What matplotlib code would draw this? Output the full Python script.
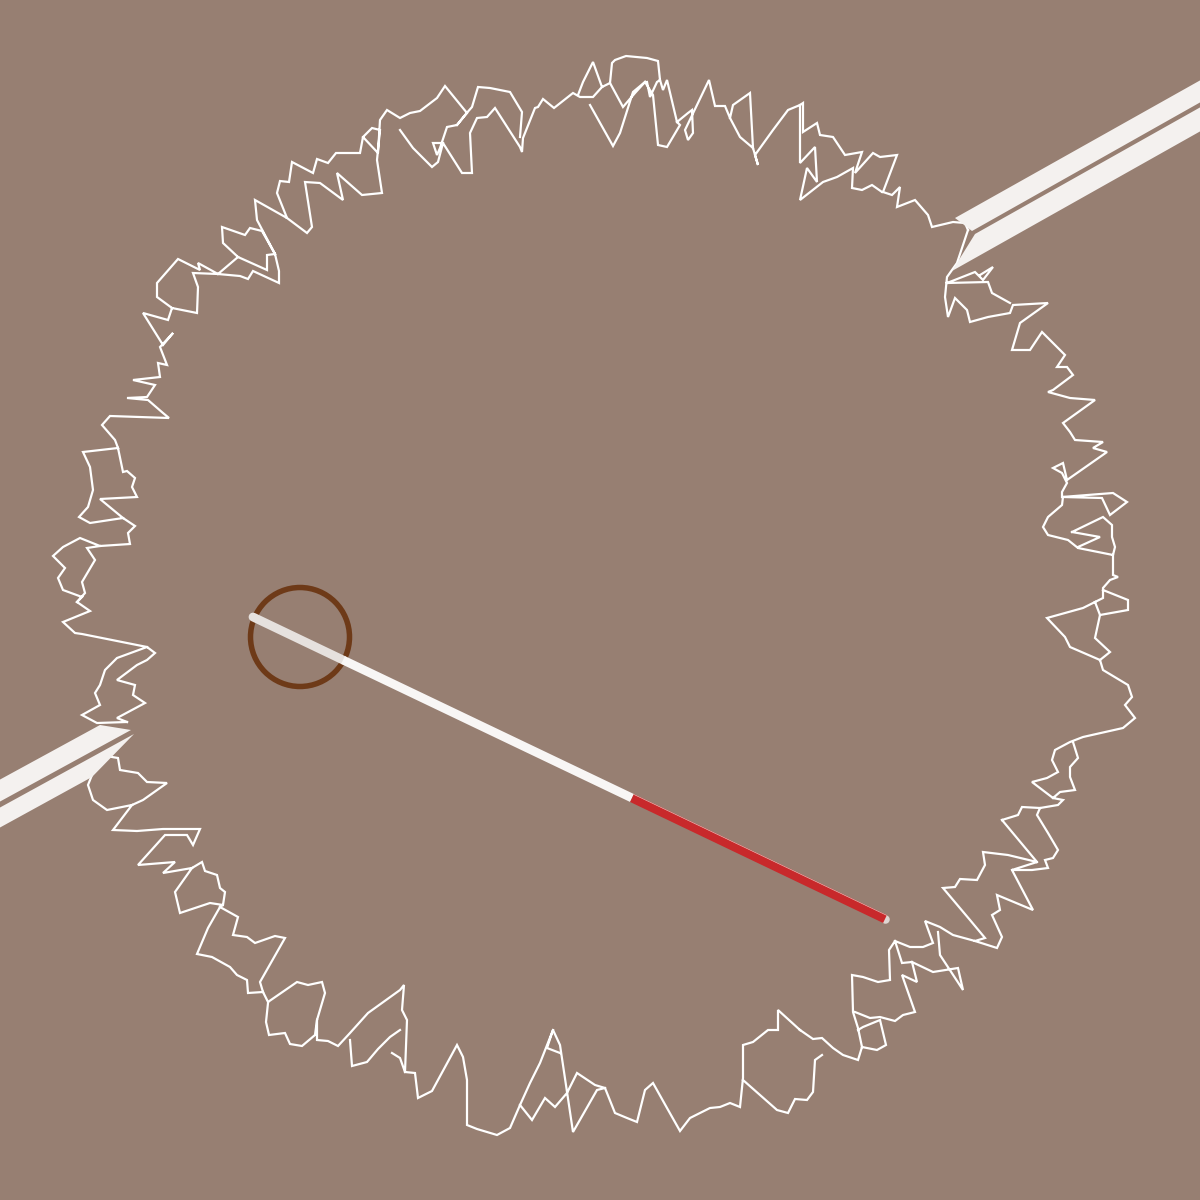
import numpy as np
import matplotlib
matplotlib.use("Agg")
import matplotlib.pyplot as plt
from matplotlib.patches import Polygon, Circle

# ---------------- data (pixel space, y downwards) ----------------
BG = "#977f72"

# jagged outline strokes
ring_right = [(968,230),(957,263),(947,277),(945,297),(948,317),(955,298),(967,310),(970,322),(988,317),
    (1010,313),(1013,305),(1048,303),(1020,323),(1012,350),(1030,350),(1042,332),(1058,348),(1065,355),
    (1057,367),(1067,367),(1073,375),(1053,390),(1048,392),(1070,398),(1095,400),(1063,423),(1070,432),
    (1075,440),(1103,442),(1093,448),(1107,452),(1067,480),(1063,463),(1053,468),(1062,473),(1067,483),
    (1062,492),(1062,497),(1113,493),(1127,502),(1110,515),(1102,498),(1063,497),(1062,505),(1048,517),
    (1043,527),(1048,535),(1068,540),(1078,548),(1113,555),(1113,575),(1118,577),(1110,580),(1103,588),
    (1103,598),(1095,602),(1083,608),(1047,618),(1065,637),(1070,647),(1100,660),(1103,670),(1128,685),
    (1132,697),(1125,705),(1135,718),(1123,728),(1083,737),(1070,742),(1055,750),(1052,760),(1058,772),
    (1047,778),(1032,782),(1053,798),(1063,800),(1058,805),(1040,808),(1037,815),(1048,833),(1058,850),
    (1053,858),(1045,860),(1048,868),(1032,870),(1012,870),(1037,862),(1008,855),(983,852),(985,865),
    (977,880),(960,879),(955,887),(943,888),(970,920),(985,938),(975,941),(953,935),(940,927),(925,921),
    (933,943),(923,947),(910,947),(895,941),(889,950),(890,980),(878,982),(863,977),(852,975),(853,1012),
    (858,1028),(862,1047),(858,1060),(843,1055),(833,1048),(822,1038),(813,1039),(800,1030)]
ring_bottom = [(800,1030),(778,1010),(778,1030),(768,1030),(753,1042),(743,1045),(743,1078),(740,1107),
    (730,1103),(720,1107),(710,1108),(690,1118),(680,1131),(667,1108),(653,1083),(645,1090),(637,1122),
    (627,1118),(615,1113),(605,1088),(597,1090),(573,1132),(560,1045),(553,1030),(540,1063),(530,1083),
    (520,1105),(510,1128),(497,1135),(477,1129),(467,1125),(467,1080),(463,1057),(457,1045),(432,1091),
    (418,1098),(415,1073),(405,1072),(407,1020),(402,1010),(404,985),(400,990),(368,1013),(350,1033),
    (338,1046),(328,1041),(317,1040),(317,1020),(325,993),(322,982),(308,985),(297,982),(268,1002),
    (263,992),(260,982),(285,938),(275,936),(255,943),(247,937),(233,935),(238,917),(220,907),(208,928),
    (197,954),(212,957),(230,967),(237,975),(247,980),(248,993),(263,992)]
ring_lower_left = [(220,907),(223,905),(210,903),(180,913),(175,892),(192,868),(202,862),(205,871),
    (217,875),(220,888),(225,892),(223,905)]
ring_lower_left2 = [(192,868),(163,873),(175,862),(138,865),(165,835),(187,835),(193,845),(200,829),
    (163,829),(137,831),(113,830),(132,805),(143,800),(167,783),(147,782),(138,773),(120,770),(118,758),(100,755)]
ring_lower_left3 = [(132,805),(107,810),(93,800),(88,785),(92,775)]
ring_left = [(147,647),(82,634),(75,633),(63,622),(90,611),(77,602),(82,597),(63,590),(58,578),(65,568),
    (53,556),(63,547),(80,538),(100,546),(130,544),(128,533),(135,526),(123,518),(90,523),(79,517),
    (88,507),(93,490),(90,467),(83,452),(118,448),(115,440),(102,425),(110,416),(169,418),(163,413),
    (148,400),(127,398),(147,397),(155,385),(133,380),(160,377),(158,363),(167,365),(160,347),(173,333),
    (163,345),(143,313),(168,320),(172,308),(197,313),(198,287),(193,273),(218,274),(198,263),(200,270),
    (178,259),(157,283),(157,297),(172,308)]
ring_left_loop = [(127,722),(97,723),(82,715),(100,705),(95,693),(100,685),(105,670),(117,658),(147,647),
    (155,653),(147,660),(137,665),(117,680),(135,685),(133,695),(145,703),(117,718),(127,722)]
ring_left_inner = [(77,602),(85,593),(82,582),(95,560),(87,548),(100,546)]
ring_left_inner2 = [(118,448),(123,472),(127,471),(135,478),(132,487),(137,497),(100,499),(123,518)]
ring_top_left = [(218,274),(240,276),(248,279),(253,271),(279,283),(279,271),(275,254),(257,220),(255,200),
    (287,218),(277,193),(280,181),(289,182),(292,162),(313,173),(317,159),(328,163),(336,153),(360,153),
    (363,137),(378,153),(380,120),(387,110),(400,118),(410,113),(420,111),(437,98),(445,86),(467,113),
    (457,125),(447,127),(440,148),(437,155),(433,143),(443,143),(462,173),(472,173),(470,133),(477,118),
    (487,117),(495,108),(520,147),(522,152),(523,138),(535,108),(538,107),(543,99),(554,108),(573,93),
    (580,97),(593,97),(602,87),(610,83),(623,107),(635,93),(645,82),(653,95),(658,145),(667,147),(680,125),
    (677,122),(688,113),(692,110),(693,133),(688,140),(685,130),(709,80),(715,106),(725,106),(730,118),
    (740,137),(753,148),(758,165),(755,155),(773,130),(788,110),(800,105),(803,103),(803,132),(817,123),
    (820,135),(833,137),(845,155),(862,152),(855,173),(873,153),(880,157),(897,155),(883,192),(892,195),
    (900,187),(897,207),(915,200),(928,215),(932,227),(953,222),(965,223),(968,230)]
ring_top_inner = [(218,274),(238,257),(223,243),(222,227),(245,235),(250,228),(262,231),(275,254)]
ring_top_inner2 = [(238,257),(267,270),(267,255),(275,254)]
ring_top_inner3 = [(287,218),(307,233),(312,227),(305,182),(320,183),(343,200),(337,173),(362,195),
    (382,193),(377,160),(380,130),(372,128),(363,137)]
ring_top_inner4 = [(400,130),(413,148),(432,167),(438,162),(443,143)]
ring_top_inner5 = [(457,125),(465,115),(472,107),(478,87),(490,88),(510,92),(522,112),(520,137)]
ring_top_inner6 = [(578,95),(583,82),(593,62),(602,87)]
ring_top_inner7 = [(590,105),(613,146),(620,133),(633,92),(645,82)]
ring_top_inner8 = [(610,83),(612,63),(615,60),(626,56),(647,58),(658,61),(660,80),(657,82),(650,97),
    (647,82)]
ring_top_inner9 = [(660,80),(663,90),(667,80),(677,122)]
ring_top_inner10 = [(730,118),(733,105),(750,93),(753,148)]
ring_top_inner11 = [(800,105),(800,163),(815,147),(817,182),(807,168),(800,200),(823,182),(837,177),
    (853,168),(852,188),(862,190),(872,185),(882,192)]
ring_right_inner = [(947,283),(975,272),(983,280),(993,267),(980,275)]
ring_right_inner2 = [(947,283),(988,282),(992,293),(1010,303)]
ring_right_inner3 = [(1072,532),(1100,537),(1078,547)]
ring_right_inner4 = [(1072,532),(1103,517),(1112,525),(1112,537),(1115,547),(1113,555)]
ring_right_inner5 = [(1095,602),(1100,615),(1128,610),(1128,600),(1103,590)]
ring_right_inner6 = [(1100,615),(1095,638),(1110,652),(1100,660)]
ring_right_inner7 = [(1053,798),(1060,792),(1075,790),(1070,777),(1070,767),(1078,758),(1073,742)]
ring_right_inner8 = [(1002,820),(1018,815),(1022,807),(1040,808)]
ring_right_inner9 = [(1002,820),(1037,862)]
ring_right_inner10 = [(1012,870),(1033,910),(997,895),(1000,910),(992,915),(1002,937),(997,948),(975,941)]
ring_bottom_inner = [(895,941),(902,963),(912,962),(917,982),(902,975),(915,1012),(903,1015),(895,1021),
    (880,1017),(870,1018),(855,1012)]
ring_bottom_inner2 = [(912,962),(933,972),(958,968),(963,990),(940,955),(938,932)]
ring_bottom_inner3 = [(862,1047),(877,1050),(886,1045),(880,1020),(863,1027),(858,1030)]
ring_bottom_inner4 = [(743,1080),(777,1110),(788,1113),(795,1099),(807,1100),(813,1092),(815,1060),(822,1055)]
ring_bottom_inner5 = [(520,1105),(532,1120),(545,1098),(555,1107),(567,1093),(577,1073),(595,1085),(605,1088)]
ring_bottom_inner6 = [(553,1030),(547,1048),(560,1053)]
ring_bottom_inner7 = [(400,1030),(390,1037),(378,1049),(367,1062),(352,1066),(350,1040)]
ring_bottom_inner8 = [(392,1053),(400,1058),(405,1072)]
ring_bottom_inner9 = [(268,1003),(266,1022),(269,1035),(285,1033),(290,1044),(302,1046),(315,1035),(317,1020)]

# two pairs of wide pale bands (parallel edges)
band_tr_upper = [(955,218),(1215,72),(1215,94),(972,231)]
band_tr_lower = [(975,234),(1215,99),(1215,123),(952,271)]
band_bl_upper = [(-10,785),(100,725),(131,730),(-10,807)]
band_bl_lower = [(-10,813),(134,734),(92,777),(-10,833)]

# brown ring
ring_center = (300, 637)
ring_radius = 49.5

# cue stick: butt, sleeve end, shaft end, tip
cue_x = [253, 343, 632, 885]
cue_y = [617, 660, 798, 919]
cue_colors = ["#e6e1de", "#f8f6f5", "#c8292b"]

# ---------------- drawing ----------------
PT = 0.72  # points per pixel at dpi=100

fig = plt.figure(figsize=(12, 12), dpi=100, facecolor=BG)
ax = fig.add_axes([0, 0, 1, 1])
ax.set_facecolor(BG)
ax.set_xlim(0, 1200)
ax.set_ylim(1200, 0)
ax.axis("off")

strokes = [ring_right, ring_bottom, ring_lower_left, ring_lower_left2, ring_lower_left3, ring_left,
           ring_left_loop, ring_left_inner, ring_left_inner2, ring_top_left, ring_top_inner,
           ring_top_inner2, ring_top_inner3, ring_top_inner4, ring_top_inner5, ring_top_inner6,
           ring_top_inner7, ring_top_inner8, ring_top_inner9, ring_top_inner10, ring_top_inner11,
           ring_right_inner, ring_right_inner2, ring_right_inner3, ring_right_inner4, ring_right_inner5,
           ring_right_inner6, ring_right_inner7, ring_right_inner8, ring_right_inner9, ring_right_inner10,
           ring_bottom_inner, ring_bottom_inner2, ring_bottom_inner3, ring_bottom_inner4,
           ring_bottom_inner5, ring_bottom_inner6, ring_bottom_inner7, ring_bottom_inner8,
           ring_bottom_inner9]
xs, ys = [], []
for s in strokes:
    a = np.array(s, dtype=float)
    xs.extend(a[:, 0]); ys.extend(a[:, 1])
    xs.append(np.nan); ys.append(np.nan)
ax.plot(xs, ys, color="white", lw=2.2 * PT, solid_joinstyle="miter", zorder=2)

for poly in [band_tr_upper, band_tr_lower, band_bl_upper, band_bl_lower]:
    ax.add_patch(Polygon(poly, closed=True, facecolor="#f4f1ef", edgecolor="none", zorder=3))

ax.add_patch(Circle(ring_center, ring_radius, fill=False, edgecolor="#6e3a18", lw=5.5 * PT, zorder=4))

# cue: tip cap, then segments
ax.plot([cue_x[-1]], [cue_y[-1]], marker="o", ms=8.5 * PT, color="#ddd6d2", mec="none", zorder=5)
for i in range(3):
    cap = "round" if i == 0 else "butt"
    ax.plot(cue_x[i:i + 2], cue_y[i:i + 2], color=cue_colors[i], lw=8.8 * PT,
            solid_capstyle=cap, zorder=6)
# thin highlight along the red shaft
dx, dy = cue_x[3] - cue_x[2], cue_y[3] - cue_y[2]
n = np.hypot(dx, dy)
ox, oy = dy / n * 4.0, -dx / n * 4.0
ax.plot([cue_x[2] + ox, cue_x[3] + ox], [cue_y[2] + oy, cue_y[3] + oy], color="#e9c9c4",
        lw=0.6 * PT, zorder=7)

fig.savefig("out.png", dpi=100, facecolor=BG)
